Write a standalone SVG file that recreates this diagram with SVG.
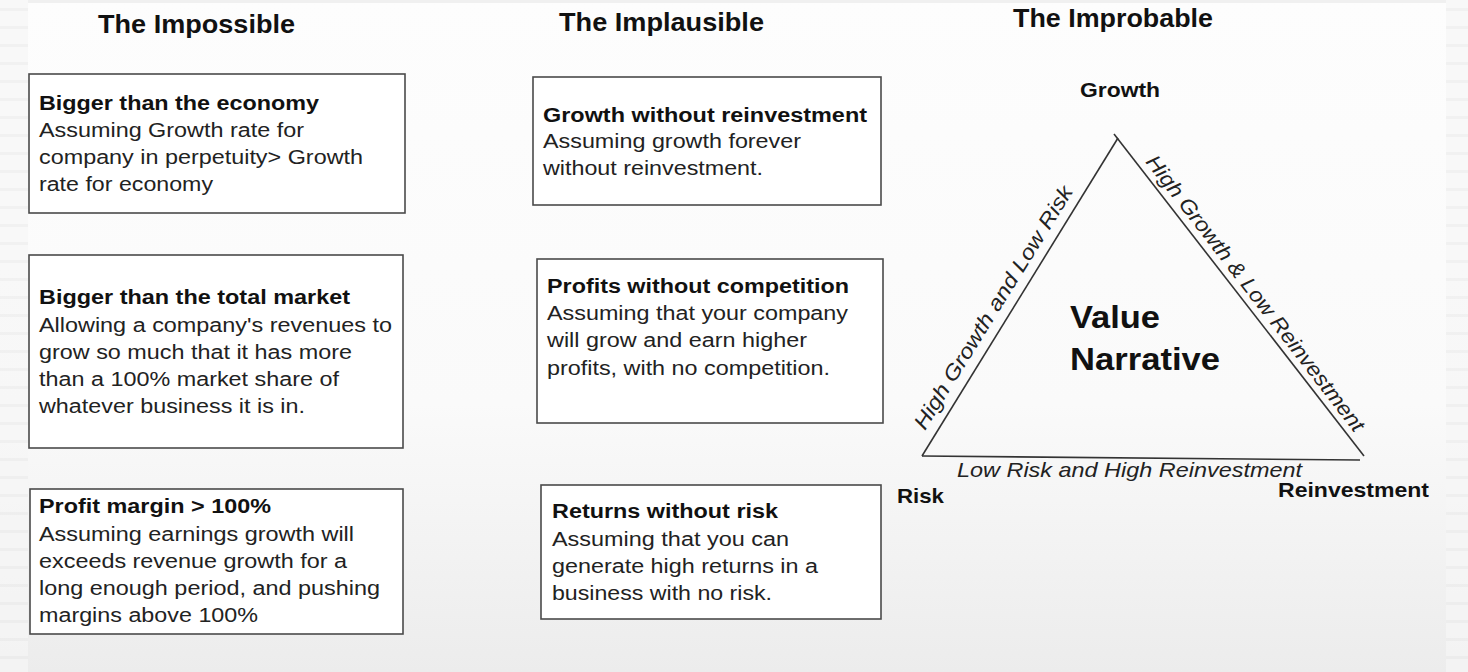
<svg xmlns="http://www.w3.org/2000/svg" width="1468" height="672" viewBox="0 0 1468 672">
  <defs>
    <linearGradient id="bg" x1="0" y1="0" x2="0" y2="1">
      <stop offset="0" stop-color="#fdfdfd"/>
      <stop offset="0.6" stop-color="#fafafa"/>
      <stop offset="1" stop-color="#ececec"/>
    </linearGradient>
    <pattern id="stripes" x="0" y="0" width="30" height="18" patternUnits="userSpaceOnUse">
      <rect width="30" height="18" fill="#f6f6f6"/>
      <rect y="8" width="30" height="3" fill="#ececec"/>
    </pattern>
  </defs>
  <style>
    .box { fill: #ffffff; stroke: #4a4a4a; stroke-width: 1.6; }
    .head { font-family: "Liberation Sans", Arial, sans-serif; font-weight: bold; font-size: 25px; fill: #111; }
    .title { font-family: "Liberation Sans", Arial, sans-serif; font-weight: bold; font-size: 20px; fill: #111; }
    .body { font-family: "Liberation Sans", Arial, sans-serif; font-size: 20px; fill: #222; }
    .vert { font-family: "Liberation Sans", Arial, sans-serif; font-weight: bold; font-size: 21px; fill: #111; }
    .edge { font-family: "Liberation Sans", Arial, sans-serif; font-style: italic; font-size: 21px; fill: #222; }
    .center { font-family: "Liberation Sans", Arial, sans-serif; font-weight: bold; font-size: 32px; fill: #111; }
    .tri { stroke: #333; stroke-width: 1.6; fill: none; }
  </style>

  <rect x="0" y="0" width="1468" height="672" fill="url(#bg)"/>
  <rect x="0" y="0" width="28" height="672" fill="url(#stripes)" opacity="0.7"/>
  <rect x="1446" y="0" width="22" height="672" fill="url(#stripes)" opacity="0.7"/>
  <rect x="28" y="0" width="1418" height="3" fill="#f0f0f0"/>

  <g id="headings">
    <text class="head" x="98" y="33" textLength="197" lengthAdjust="spacingAndGlyphs">The Impossible</text>
    <text class="head" x="559" y="31" textLength="205" lengthAdjust="spacingAndGlyphs">The Implausible</text>
    <text class="head" x="1013" y="27" textLength="200" lengthAdjust="spacingAndGlyphs">The Improbable</text>
  </g>

  <g id="impossible-economy">
    <rect class="box" x="29" y="74" width="376" height="139"/>
    <text class="title" x="39" y="110" textLength="280" lengthAdjust="spacingAndGlyphs">Bigger than the economy</text>
    <text class="body" x="39" y="137" textLength="265" lengthAdjust="spacingAndGlyphs">Assuming Growth rate for</text>
    <text class="body" x="39" y="164" textLength="324" lengthAdjust="spacingAndGlyphs">company in perpetuity&gt; Growth</text>
    <text class="body" x="39" y="191" textLength="174" lengthAdjust="spacingAndGlyphs">rate for economy</text>
  </g>

  <g id="impossible-market">
    <rect class="box" x="29" y="255" width="374" height="193"/>
    <text class="title" x="39" y="304" textLength="311" lengthAdjust="spacingAndGlyphs">Bigger than the total market</text>
    <text class="body" x="39" y="332" textLength="353" lengthAdjust="spacingAndGlyphs">Allowing a company's revenues to</text>
    <text class="body" x="39" y="359" textLength="313" lengthAdjust="spacingAndGlyphs">grow so much that it has more</text>
    <text class="body" x="39" y="386" textLength="300" lengthAdjust="spacingAndGlyphs">than a 100% market share of</text>
    <text class="body" x="39" y="413" textLength="266" lengthAdjust="spacingAndGlyphs">whatever business it is in.</text>
  </g>

  <g id="impossible-margin">
    <rect class="box" x="30" y="489" width="373" height="145"/>
    <text class="title" x="39" y="513" textLength="232" lengthAdjust="spacingAndGlyphs">Profit margin &gt; 100%</text>
    <text class="body" x="39" y="541" textLength="315" lengthAdjust="spacingAndGlyphs">Assuming earnings growth will</text>
    <text class="body" x="39" y="568" textLength="308" lengthAdjust="spacingAndGlyphs">exceeds revenue growth for a</text>
    <text class="body" x="39" y="595" textLength="341" lengthAdjust="spacingAndGlyphs">long enough period, and pushing</text>
    <text class="body" x="39" y="622" textLength="219" lengthAdjust="spacingAndGlyphs">margins above 100%</text>
  </g>

  <g id="implausible-growth">
    <rect class="box" x="533" y="77" width="348" height="128"/>
    <text class="title" x="543" y="122" textLength="324" lengthAdjust="spacingAndGlyphs">Growth without reinvestment</text>
    <text class="body" x="543" y="148" textLength="258" lengthAdjust="spacingAndGlyphs">Assuming growth forever</text>
    <text class="body" x="543" y="175" textLength="220" lengthAdjust="spacingAndGlyphs">without reinvestment.</text>
  </g>

  <g id="implausible-profits">
    <rect class="box" x="537" y="259" width="346" height="164"/>
    <text class="title" x="547" y="293" textLength="302" lengthAdjust="spacingAndGlyphs">Profits without competition</text>
    <text class="body" x="547" y="320" textLength="301" lengthAdjust="spacingAndGlyphs">Assuming that your company</text>
    <text class="body" x="547" y="347" textLength="260" lengthAdjust="spacingAndGlyphs">will grow and earn higher</text>
    <text class="body" x="547" y="375" textLength="283" lengthAdjust="spacingAndGlyphs">profits, with no competition.</text>
  </g>

  <g id="implausible-returns">
    <rect class="box" x="541" y="485" width="340" height="134"/>
    <text class="title" x="552" y="518" textLength="226" lengthAdjust="spacingAndGlyphs">Returns without risk</text>
    <text class="body" x="552" y="546" textLength="237" lengthAdjust="spacingAndGlyphs">Assuming that you can</text>
    <text class="body" x="552" y="573" textLength="266" lengthAdjust="spacingAndGlyphs">generate high returns in a</text>
    <text class="body" x="552" y="600" textLength="220" lengthAdjust="spacingAndGlyphs">business with no risk.</text>
  </g>

  <g id="connectors">
    <line class="tri" x1="922" y1="456" x2="1118" y2="138"/>
    <line class="tri" x1="1114" y1="134" x2="1364" y2="456"/>
    <line class="tri" x1="922" y1="456" x2="1360" y2="460"/>
  </g>

  <g id="triangle-labels">
    <text class="edge" transform="translate(925,431) rotate(-58.2)" x="0" y="0" textLength="282" lengthAdjust="spacingAndGlyphs">High Growth and Low Risk</text>
    <text class="edge" transform="translate(1145,162) rotate(52.3)" x="0" y="0" textLength="343" lengthAdjust="spacingAndGlyphs">High Growth &amp; Low Reinvestment</text>
    <text class="edge" x="957" y="477" textLength="345" lengthAdjust="spacingAndGlyphs">Low Risk and High Reinvestment</text>
  </g>

  <g id="node-growth">
    <text class="vert" x="1080" y="97" textLength="80" lengthAdjust="spacingAndGlyphs">Growth</text>
  </g>
  <g id="node-risk">
    <text class="vert" x="897" y="503" textLength="47" lengthAdjust="spacingAndGlyphs">Risk</text>
  </g>
  <g id="node-reinvestment">
    <text class="vert" x="1278" y="497" textLength="151" lengthAdjust="spacingAndGlyphs">Reinvestment</text>
  </g>
  <g id="node-value-narrative">
    <text class="center" x="1070" y="328" textLength="90" lengthAdjust="spacingAndGlyphs">Value</text>
    <text class="center" x="1070" y="370" textLength="150" lengthAdjust="spacingAndGlyphs">Narrative</text>
  </g>
</svg>
